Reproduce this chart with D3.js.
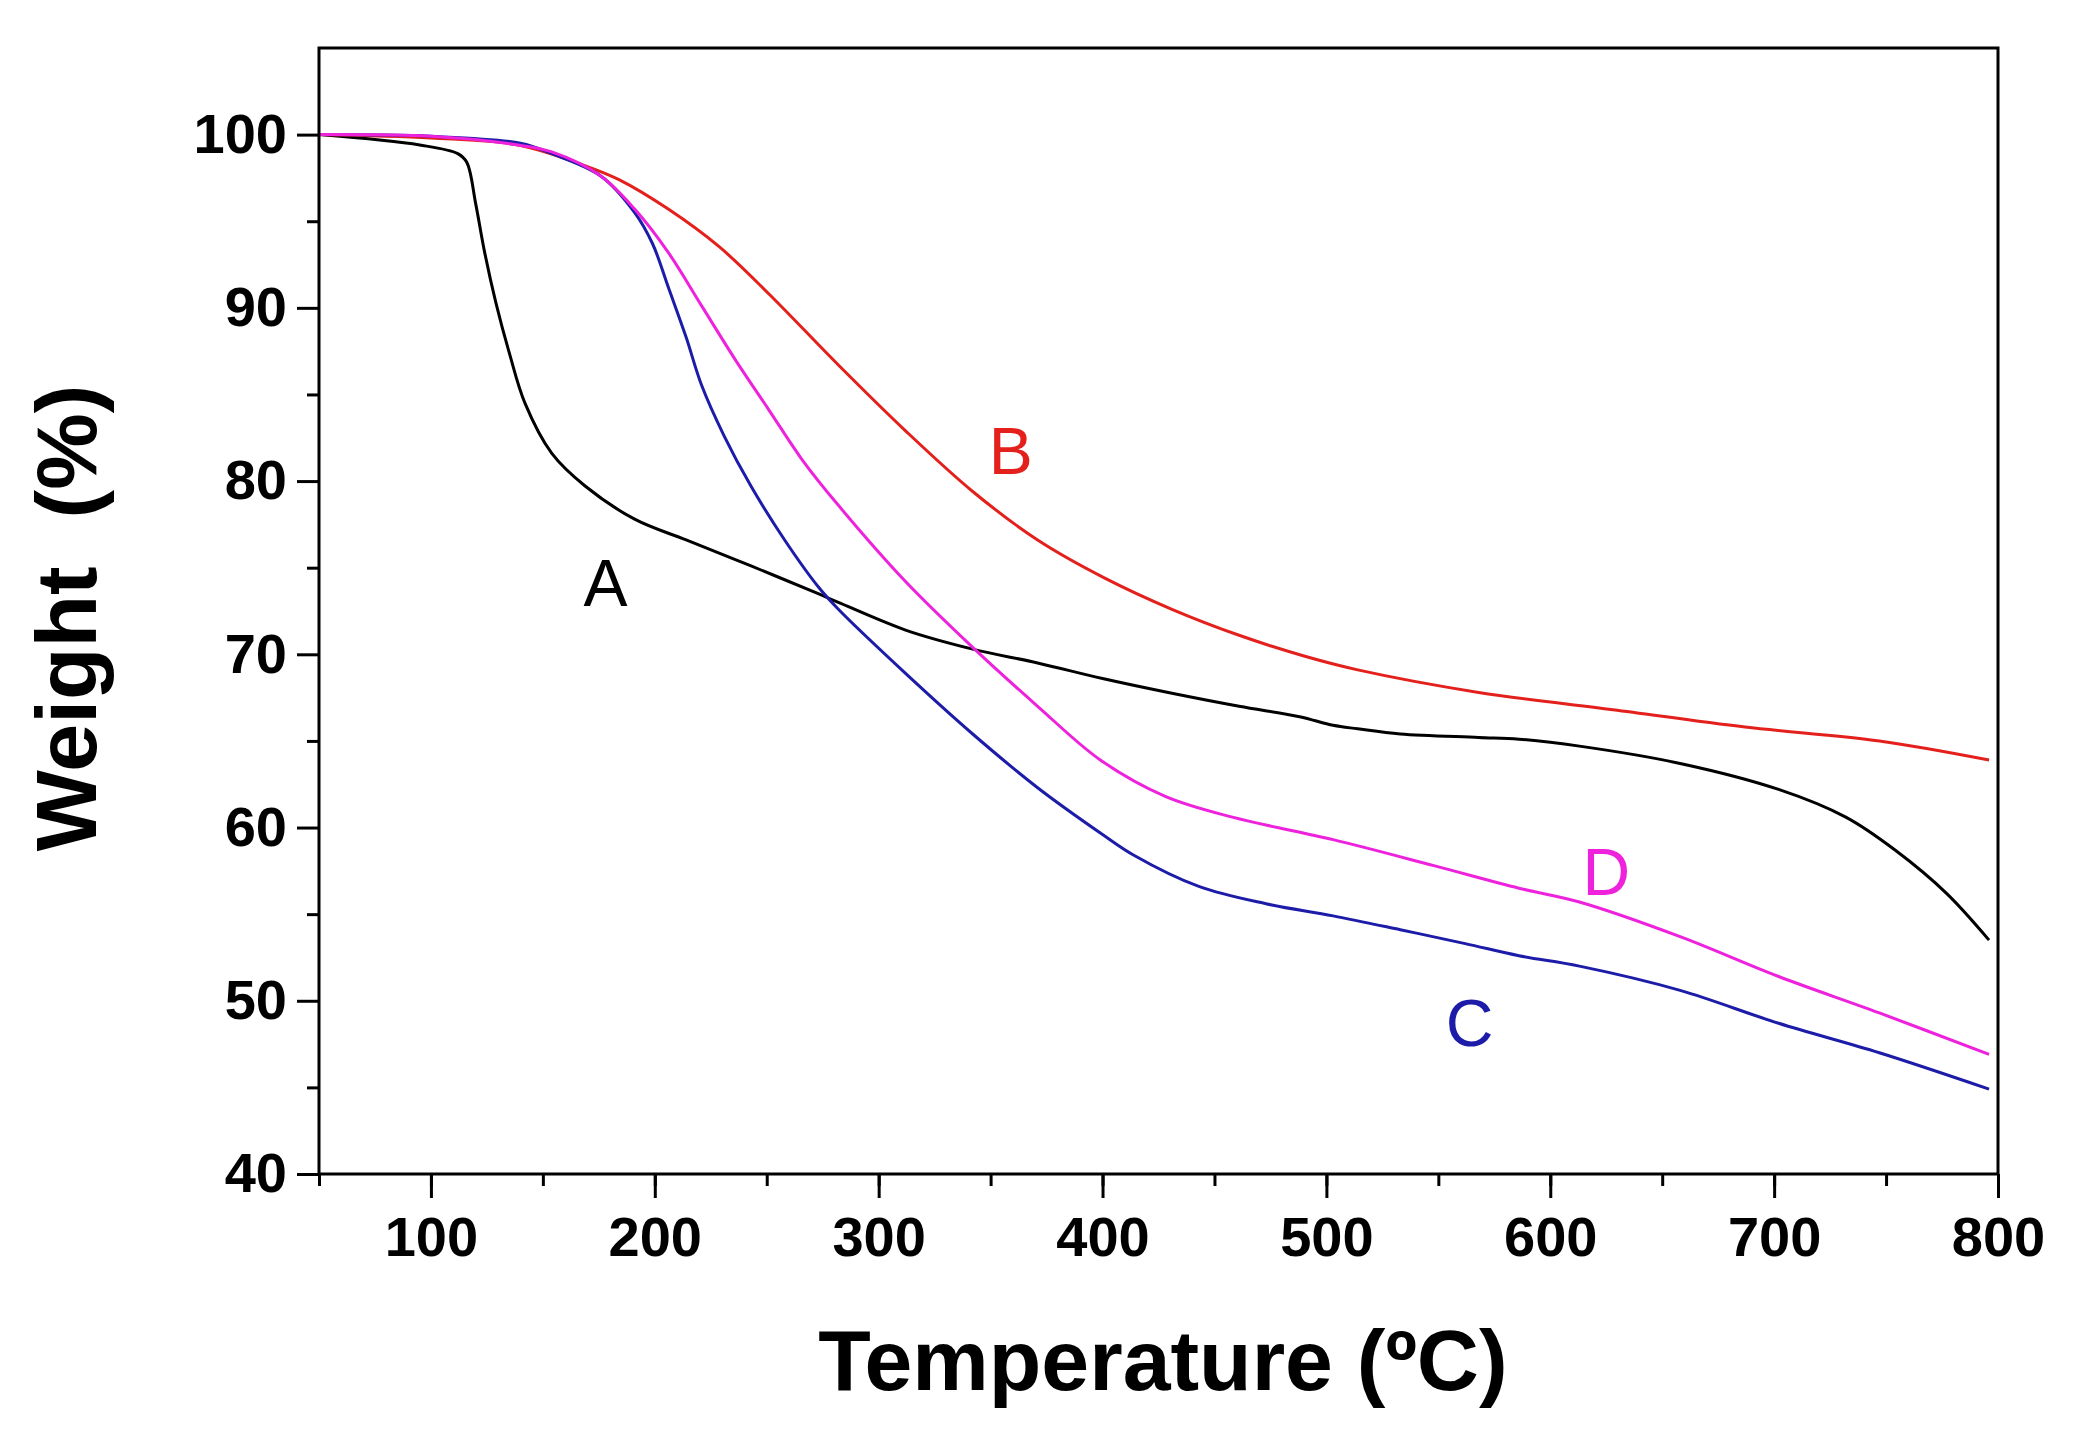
<!DOCTYPE html>
<html>
<head>
<meta charset="utf-8">
<script src="https://cdn.jsdelivr.net/npm/d3@7"></script>
<style>
  body { margin: 0; background: #fff; }
  svg { display: block; font-family: "Liberation Sans", Arial, sans-serif; }
</style>
</head>
<body>
<div id="chart"></div>
<script>
// TGA curves: temperature (ºC) -> weight (%)
const tempA = [50, 95, 112, 116, 120, 124, 129, 135, 142, 154, 169, 191, 214, 243, 273, 282, 312, 342, 371, 400, 431, 461, 488, 503, 514, 533, 568, 586, 613, 658, 702, 732, 754, 777, 796];
const weightA = [100, 99.4, 98.9, 98.4, 96.0, 93.2, 90.3, 87.4, 84.5, 81.6, 79.7, 77.8, 76.6, 75.1, 73.5, 73.0, 71.4, 70.3, 69.5, 68.6, 67.75, 67.0, 66.4, 65.9, 65.7, 65.4, 65.2, 65.1, 64.7, 63.7, 62.2, 60.6, 58.7, 56.2, 53.5];

const tempB = [50, 100, 139, 169, 184, 206, 229, 251, 282, 312, 342, 371, 401, 431, 461, 490, 514, 568, 628, 687, 747, 796];
const weightB = [100, 99.8, 99.4, 98.2, 97.4, 95.7, 93.5, 90.8, 86.7, 82.9, 79.4, 76.6, 74.4, 72.6, 71.1, 69.9, 69.1, 67.8, 66.8, 65.8, 65.0, 63.9];

const tempC = [50, 100, 140, 154, 176, 191, 199, 206, 214, 221, 231, 243, 258, 273, 282, 312, 342, 371, 400, 414, 443, 473, 503, 533, 562, 586, 613, 658, 702, 747, 796];
const weightC = [100, 99.9, 99.5, 98.9, 97.6, 95.5, 93.7, 91.2, 88.3, 85.5, 82.6, 79.7, 76.6, 73.9, 72.6, 68.9, 65.4, 62.3, 59.6, 58.4, 56.6, 55.6, 54.9, 54.1, 53.3, 52.6, 52.0, 50.6, 48.7, 47.0, 44.9];

const tempD = [50, 100, 139, 154, 176, 191, 206, 221, 236, 251, 266, 282, 312, 342, 371, 399, 428, 458, 503, 548, 586, 613, 658, 702, 747, 796];
const weightD = [100, 99.9, 99.4, 99.0, 97.6, 95.7, 93.2, 90.1, 87.0, 84.1, 81.2, 78.6, 74.2, 70.4, 67.0, 63.9, 61.8, 60.6, 59.3, 57.8, 56.5, 55.7, 53.7, 51.4, 49.3, 46.9];

const seriesNames = ['A', 'B', 'C', 'D'];
const seriesColors = ['#000000', '#e4201c', '#1c1ca8', '#ee22dd'];
// where each curve letter sits, in data units
const labelTemp = [178, 359, 564, 625];
const labelWeight = [74.2, 81.8, 48.8, 57.5];

const xTicks = [100, 200, 300, 400, 500, 600, 700, 800];
const yTicks = [40, 50, 60, 70, 80, 90, 100];

const width = 2076;
const height = 1433;
const margin = { top: 48, right: 78, bottom: 259, left: 319 };

const usableArea = {
  top: margin.top,
  right: width - margin.right,
  bottom: height - margin.bottom,
  left: margin.left,
  width: width - margin.left - margin.right,
  height: height - margin.top - margin.bottom,
};

const series = [
  d3.zip(tempA, weightA),
  d3.zip(tempB, weightB),
  d3.zip(tempC, weightC),
  d3.zip(tempD, weightD),
];

function createChart() {
  const svg = d3
    .select('#chart')
    .append('svg')
    .attr('width', width)
    .attr('height', height)
    .attr('viewBox', `0 0 ${width} ${height}`);

  const xScale = d3.scaleLinear().domain([50, 800]).range([usableArea.left, usableArea.right]);
  const yScale = d3.scaleLinear().domain([40, 105]).range([usableArea.bottom, usableArea.top]);

  // curves
  const line = d3
    .line()
    .x((d) => xScale(d[0]))
    .y((d) => yScale(d[1]))
    .curve(d3.curveCatmullRom.alpha(0.5));

  svg
    .append('g')
    .attr('class', 'curves')
    .selectAll('path')
    .data(series)
    .join('path')
    .attr('d', line)
    .attr('fill', 'none')
    .attr('stroke', (d, i) => seriesColors[i])
    .attr('stroke-width', 3)
    .attr('stroke-linejoin', 'round');

  // frame
  svg
    .append('rect')
    .attr('x', usableArea.left)
    .attr('y', usableArea.top)
    .attr('width', usableArea.width)
    .attr('height', usableArea.height)
    .attr('fill', 'none')
    .attr('stroke', '#000')
    .attr('stroke-width', 3);

  // minor ticks
  svg
    .append('g')
    .attr('transform', `translate(0, ${usableArea.bottom})`)
    .call(d3.axisBottom(xScale).tickValues(d3.range(50, 801, 50)).tickSize(12).tickFormat(''))
    .call((g) => g.select('.domain').remove())
    .call((g) => g.selectAll('line').attr('stroke-width', 3));

  svg
    .append('g')
    .attr('transform', `translate(${usableArea.left}, 0)`)
    .call(d3.axisLeft(yScale).tickValues(d3.range(45, 101, 10)).tickSize(12).tickFormat(''))
    .call((g) => g.select('.domain').remove())
    .call((g) => g.selectAll('line').attr('stroke-width', 3));

  // major ticks + labels
  const xAxis = d3.axisBottom(xScale).tickValues(xTicks).tickSize(24).tickPadding(18);
  const yAxis = d3.axisLeft(yScale).tickValues(yTicks).tickSize(22).tickPadding(10);

  svg
    .append('g')
    .attr('transform', `translate(0, ${usableArea.bottom})`)
    .call(xAxis)
    .call((g) => g.select('.domain').remove())
    .call((g) => g.selectAll('line').attr('stroke-width', 3))
    .call((g) =>
      g.selectAll('text')
        .attr('font-size', 56)
        .attr('font-weight', 'bold')
        .attr('font-family', '"Liberation Sans", Arial, sans-serif')
        .attr('fill', '#000')
    );

  svg
    .append('g')
    .attr('transform', `translate(${usableArea.left}, 0)`)
    .call(yAxis)
    .call((g) => g.select('.domain').remove())
    .call((g) => g.selectAll('line').attr('stroke-width', 3))
    .call((g) =>
      g.selectAll('text')
        .attr('font-size', 56)
        .attr('font-weight', 'bold')
        .attr('font-family', '"Liberation Sans", Arial, sans-serif')
        .attr('fill', '#000')
    );

  // axis titles
  svg
    .append('text')
    .attr('x', 1163)
    .attr('y', 1390)
    .attr('text-anchor', 'middle')
    .attr('font-size', 86)
    .attr('font-weight', 'bold')
    .text('Temperature (ºC)');

  svg
    .append('text')
    .attr('transform', 'translate(96, 618) rotate(-90)')
    .attr('text-anchor', 'middle')
    .attr('font-size', 86)
    .attr('font-weight', 'bold')
    .attr('xml:space', 'preserve')
    .style('white-space', 'pre')
    .text('Weight  (%)');

  // curve letters
  svg
    .append('g')
    .selectAll('text')
    .data(seriesNames)
    .join('text')
    .attr('x', (d, i) => xScale(labelTemp[i]))
    .attr('y', (d, i) => yScale(labelWeight[i]) + 24)
    .attr('text-anchor', 'middle')
    .attr('font-size', 66)
    .attr('fill', (d, i) => seriesColors[i])
    .text((d) => d);
}

document.addEventListener('DOMContentLoaded', createChart);
</script>
</body>
</html>
